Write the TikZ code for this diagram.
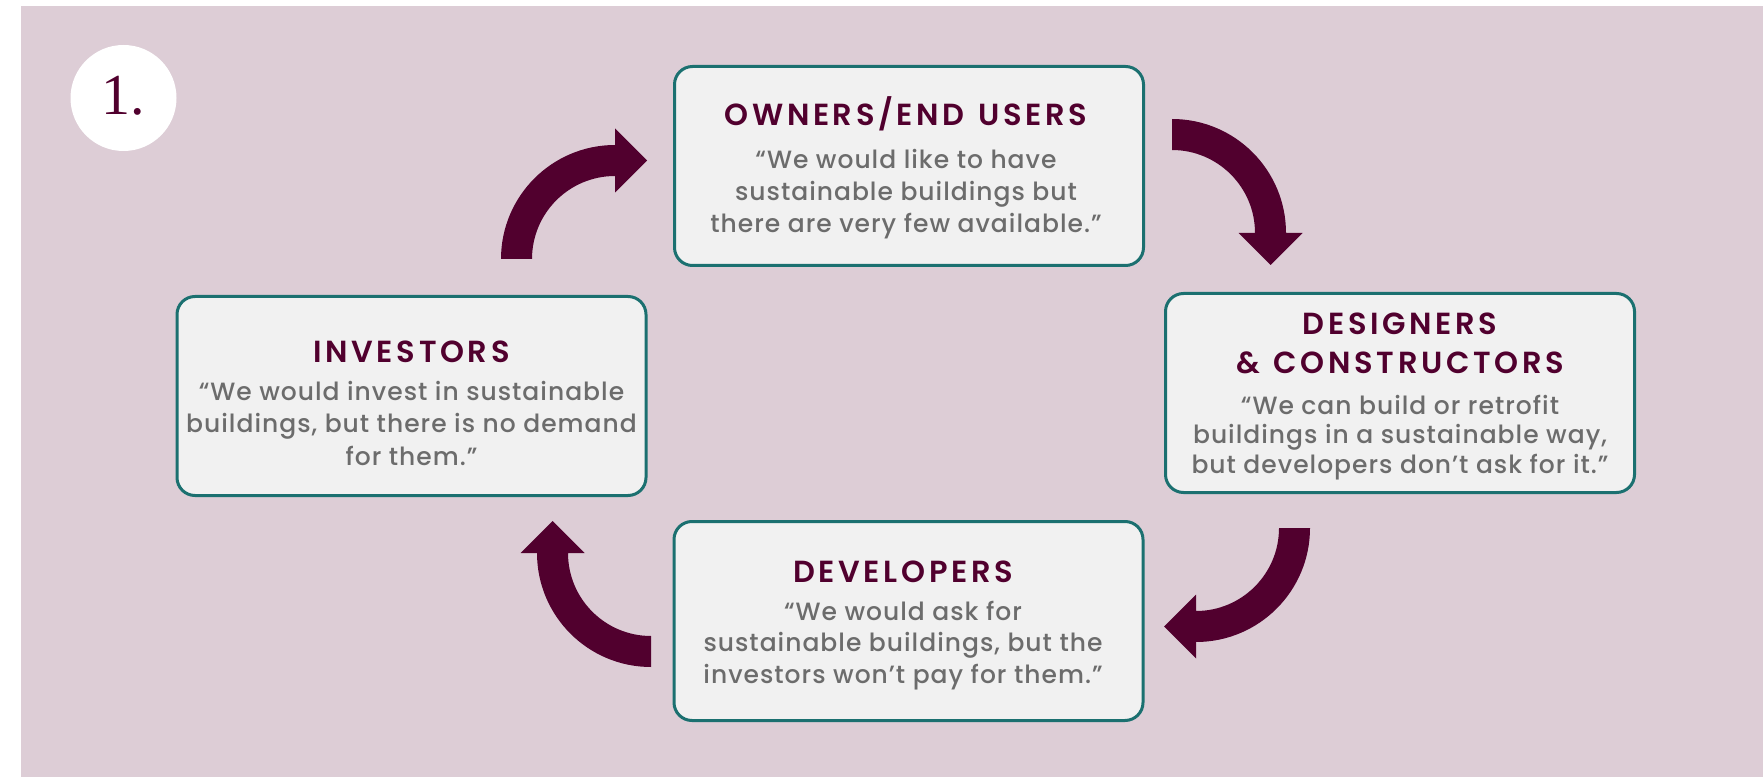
\documentclass[tikz,border=0pt]{standalone}
\usepackage{fontspec}
\newfontfamily\titlefont{Poppins SemiBold}[LetterSpace=12]
\newfontfamily\quotefont{Poppins Medium}[LetterSpace=4]
\newfontfamily\numberfont{Liberation Serif}
\usetikzlibrary{calc}

\definecolor{bgmauve}{RGB}{221,205,214}
\definecolor{boxfill}{RGB}{241,241,241}
\definecolor{boxline}{RGB}{27,112,112}
\definecolor{plum}{RGB}{81,0,46}
\definecolor{quotegray}{RGB}{108,108,108}

\tikzset{
  stagebox/.style={draw=boxline, line width=3pt, fill=boxfill, rounded corners=18pt,
    minimum width=469pt, minimum height=199pt, inner sep=0pt},
  stagetitle/.style={anchor=base, text=plum, inner sep=0pt,
    font=\titlefont\fontsize{30.5}{36}\selectfont},
  stagequote/.style={anchor=base, text=quotegray, inner sep=0pt,
    font=\quotefont\fontsize{25}{31}\selectfont},
  badge/.style={circle, fill=white, minimum size=106pt, inner sep=0pt},
}

% thick curved arrow turning a quarter circle clockwise around #1,
% its head sitting at angle \headangle
\newcommand{\quarterArrow}[1]{%
  \fill[plum] ($(#1)+({\headangle+90}:114)$)
    arc[start angle={\headangle+90}, end angle={\headangle}, radius=114]
    -- ($(#1)+(\headangle:130.5)$)
    -- ($(#1)+(\headangle:98.5)+({\headangle-90}:32)$)
    -- ($(#1)+(\headangle:66.5)$)
    -- ($(#1)+(\headangle:83)$)
    arc[start angle={\headangle}, end angle={\headangle+90}, radius=83]
    -- cycle;}

\begin{document}
\begin{tikzpicture}[x=1pt, y=1pt]
  % page and panel
  \fill[white] (0,0) rectangle (1763,777);
  \useasboundingbox (0,0) rectangle (1763,777);
  \fill[bgmauve] (21,0) rectangle (1763,771);

  % step number
  \node[badge] (badge) at (123.5,679) {};
  \node[anchor=base, text=plum, inner sep=0pt, font=\numberfont\fontsize{58}{60}\selectfont]
    (badgenum) at (123,662) {1.};

  % the four stages
  \node[stagebox] (owners)     at (909,611)   {};
  \node[stagebox] (investors)  at (411.5,381) {};
  \node[stagebox] (designers)  at (1400,384)  {};
  \node[stagebox] (developers) at (908.5,156) {};

  \node[stagetitle] (ownersT)  at (906,651) {OWNERS/END\hspace{3pt} USERS};
  \node[stagequote] (ownersQ1) at (906,608) {“We would like to have};
  \node[stagequote] (ownersQ2) at (906,576) {sustainable buildings but};
  \node[stagequote] (ownersQ3) at (906,544) {there are very few available.”};

  \node[stagetitle] (investorsT)  at (411.5,414) {INVESTORS};
  \node[stagequote] (investorsQ1) at (411.5,376) {“We would invest in sustainable};
  \node[stagequote] (investorsQ2) at (411.5,344) {buildings, but there is no demand};
  \node[stagequote] (investorsQ3) at (411.5,312) {for them.”};

  \node[stagetitle] (designersT1) at (1400,442) {DESIGNERS};
  \node[stagetitle] (designersT2) at (1400,403) {\&\hspace{3pt} CONSTRUCTORS};
  \node[stagequote] (designersQ1) at (1400,362) {“We can build or retrofit};
  \node[stagequote] (designersQ2) at (1400,333) {buildings in a sustainable way,};
  \node[stagequote] (designersQ3) at (1400,304) {but developers don’t ask for it.”};

  \node[stagetitle] (developersT)  at (903,195) {DEVELOPERS};
  \node[stagequote] (developersQ1) at (903,157) {“We would ask for};
  \node[stagequote] (developersQ2) at (903,126) {sustainable buildings, but the};
  \node[stagequote] (developersQ3) at (903,94)  {investors won’t pay for them.”};

  % pivots of the curved arrows between the stages
  \coordinate (pivotTL) at (615,518);
  \coordinate (pivotTR) at (1172,544);
  \coordinate (pivotBR) at (1196,249);
  \coordinate (pivotBL) at (651,224);

  \def\headangle{90}\quarterArrow{pivotTL}
  \def\headangle{0}\quarterArrow{pivotTR}
  \def\headangle{-90}\quarterArrow{pivotBR}
  \def\headangle{-180}\quarterArrow{pivotBL}
\end{tikzpicture}
\end{document}
